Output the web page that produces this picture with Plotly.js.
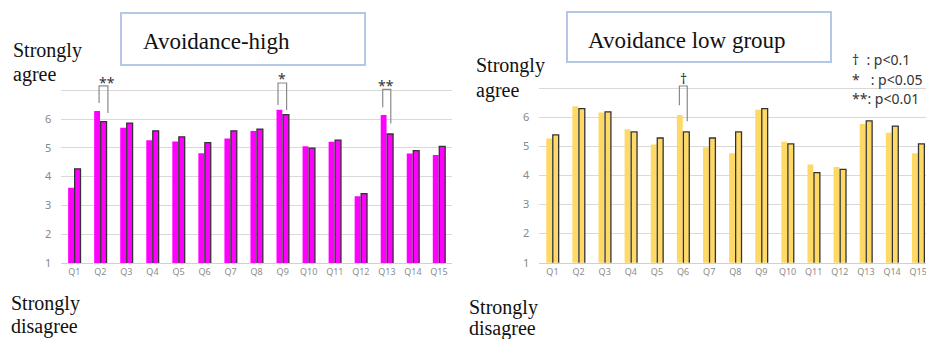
<!DOCTYPE html>
<html>
<head>
<meta charset="utf-8">
<script src="https://cdn.plot.ly/plotly-3.0.1.min.js"></script>
<style>
html,body{margin:0;padding:0;background:#fff;overflow:hidden;}
#chart{width:926px;height:339px;}
</style>
</head>
<body>
<div id="chart"></div>
<script>
// ---- data ----
const questions = ["Q1","Q2","Q3","Q4","Q5","Q6","Q7","Q8","Q9","Q10","Q11","Q12","Q13","Q14","Q15"];
const highA = [3.61,6.28,5.70,5.26,5.22,4.81,5.32,5.58,6.32,5.05,5.21,3.32,6.14,4.80,4.75];
const highB = [4.27,5.91,5.86,5.59,5.38,5.18,5.59,5.65,6.15,4.99,5.27,3.41,5.48,4.90,5.05];
const lowA  = [5.27,6.38,6.17,5.59,5.07,6.08,4.97,4.77,6.26,5.16,4.38,4.29,5.77,5.47,4.77];
const lowB  = [5.40,6.30,6.19,5.50,5.29,5.50,5.29,5.50,6.30,5.09,4.10,4.21,5.88,5.70,5.09];
const yTickVals = [1,2,3,4,5,6,7];
const yTickText = ["1","2","3","4","5","6",""];
// significance marks: [panel, question index, label, leftOffset, rightOffset, top, leftBottom, rightBottom, labelDx, labelY]
const sigMarks = [
  ["L", 1, "**", -0.05, 0.29, 7.15, 6.56, 6.21, 0.27, 7.28],
  ["L", 8, "*",  -0.18, 0.15, 7.25, 6.49, 6.31, -0.03, 7.39],
  ["L", 12, "**", -0.16, 0.15, 7.03, 6.41, 5.84, -0.03, 7.16],
  ["R", 5, "\u2020", -0.14, 0.16, 7.08, 6.42, 5.87, 0.03, 7.35]
];
const legendLines = ["\u2020\u00a0 : p<0.1", "*\u00a0\u00a0 : p<0.05", "**: p<0.01"];

const W = 926, H = 339;
const px = v => v / W;
const py = v => 1 - v / H;

const magenta = "#FF00FF";
const gold = "#FFD966";
const outline = "#333333";

const traces = [
  {type:"bar", x:questions, y:highA, xaxis:"x", yaxis:"y", marker:{color:magenta, line:{width:0}}},
  {type:"bar", x:questions, y:highB, xaxis:"x", yaxis:"y", marker:{color:magenta, line:{color:outline, width:1.3}}},
  {type:"bar", x:questions, y:lowA, xaxis:"x2", yaxis:"y2", marker:{color:gold, line:{width:0}}},
  {type:"bar", x:questions, y:lowB, xaxis:"x2", yaxis:"y2", marker:{color:gold, line:{color:outline, width:1.3}}}
];

const tickFont = {family:"Noto Sans", size:9, color:"#8c8c8c"};
const yTickFont = {family:"Noto Sans", size:11, color:"#888"};

function xax(domain, range){
  return {domain:domain, range:range, type:"category", showgrid:false, zeroline:false,
    showline:true, linecolor:"#d0d0d0", linewidth:1, ticks:"", tickfont:tickFont, fixedrange:true};
}
function yax(domain, anchor){
  return {domain:domain, range:[1,7.4], anchor:anchor, tickvals:yTickVals, ticktext:yTickText,
    showgrid:true, gridcolor:"#d9d9d9", gridwidth:1, zeroline:false, showline:false, ticks:"",
    ticklabelstandoff:9, tickfont:yTickFont, fixedrange:true};
}

const shapes = [];
const annotations = [];
const serif = "Liberation Serif";

sigMarks.forEach(m => {
  const xr = m[0] === "L" ? "x" : "x2";
  const yr = m[0] === "L" ? "y" : "y2";
  const i = m[1];
  const xl = i + m[3], xrt = i + m[4];
  shapes.push({type:"path", xref:xr, yref:yr,
    path:`M ${xl} ${m[6]} L ${xl} ${m[5]} L ${xrt} ${m[5]} L ${xrt} ${m[7]}`,
    line:{color:"#8a8a8a", width:1.2}});
  annotations.push({xref:xr, yref:yr, x:i + m[8], y:m[9], text:m[2], showarrow:false,
    xanchor:"center", yanchor:"middle", font:{family:"Noto Sans", size:14, color:"#333"}});
});

// title boxes
shapes.push({type:"rect", xref:"paper", yref:"paper", x0:px(121), x1:px(365), y0:py(65), y1:py(13),
  line:{color:"#b4c7e7", width:2}, fillcolor:"rgba(0,0,0,0)"});
shapes.push({type:"rect", xref:"paper", yref:"paper", x0:px(567), x1:px(831), y0:py(62), y1:py(12),
  line:{color:"#b4c7e7", width:2}, fillcolor:"rgba(0,0,0,0)"});

function txt(text, x, yc, size, family, color){
  annotations.push({xref:"paper", yref:"paper", x:px(x), y:py(yc), text:text, showarrow:false,
    xanchor:"left", yanchor:"middle", font:{family:family, size:size, color:color || "#111"}});
}
txt("Avoidance-high", 141, 42, 23, serif);
txt("Avoidance low group", 586, 40, 23, serif);
txt("Strongly", 11, 50.5, 20, serif);
txt("agree", 11, 74.5, 20, serif);
txt("Strongly", 474, 66, 20, serif);
txt("agree", 474, 90.5, 20, serif);
txt("Strongly", 9, 303, 20, serif);
txt("disagree", 9, 326, 20, serif);
txt("Strongly", 467, 307, 20, serif);
txt("disagree", 467, 328, 20, serif);
const legY = [59, 79, 98];
legendLines.forEach((t, k) => txt(t, 850, legY[k], 14, "Noto Sans", "#333"));

const layout = {
  width:W, height:H, margin:{l:0, r:0, t:0, b:0},
  paper_bgcolor:"#fff", plot_bgcolor:"rgba(0,0,0,0)",
  showlegend:false, barmode:"group", bargap:0.5, bargroupgap:0.1,
  xaxis: xax([px(61.3), px(452)], [-0.5, 14.5]),
  yaxis: yax([py(263), py(78.7)], "x"),
  xaxis2: xax([px(539.4), 1], [-0.5, 14.3]),
  yaxis2: yax([py(262.7), py(76.7)], "x2"),
  shapes: shapes,
  annotations: annotations
};
layout.xaxis.anchor = "y";
layout.xaxis2.anchor = "y2";

Plotly.newPlot("chart", traces, layout, {displayModeBar:false, staticPlot:true});
</script>
</body>
</html>
